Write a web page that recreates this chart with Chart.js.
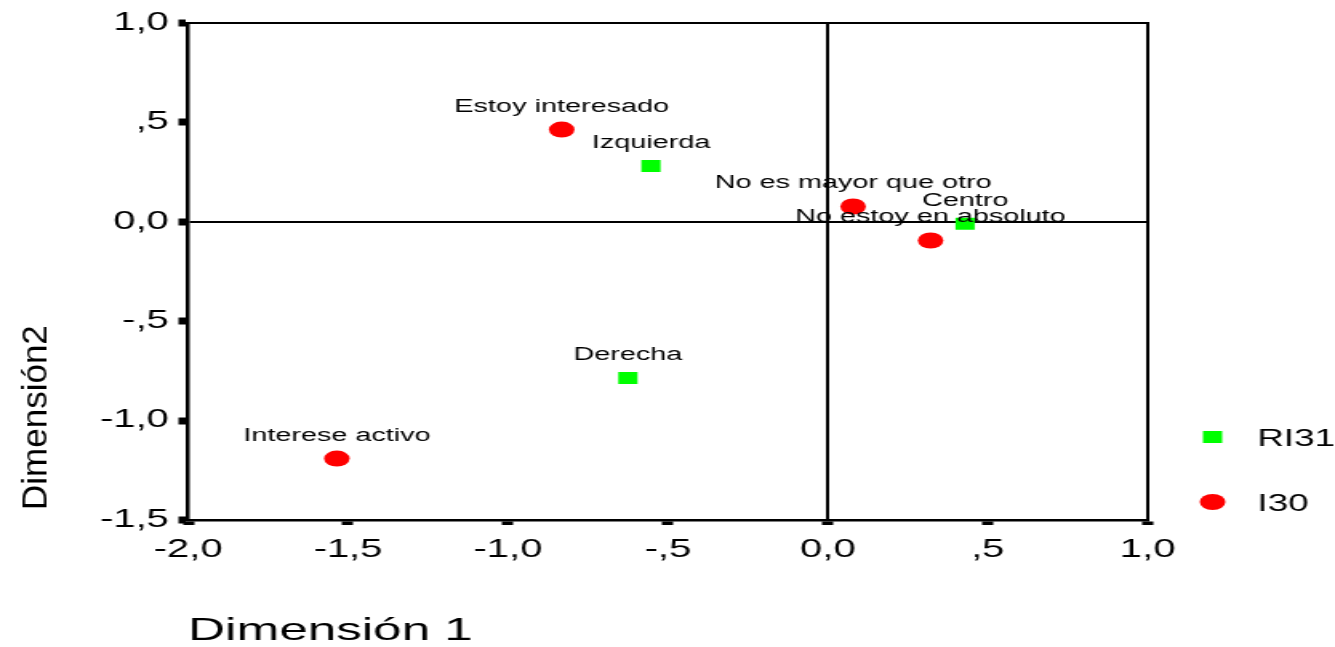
<!DOCTYPE html>
<html>
<head>
<meta charset="utf-8">
<script src="https://cdn.jsdelivr.net/npm/chart.js@4"></script>
<style>
  html, body { margin: 0; padding: 0; background: #fff; overflow: hidden; }
  /* the reference is stretched sideways, so draw narrow and stretch */
  #wrap { width: 834px; height: 647px; transform: scaleX(1.6007); transform-origin: 0 0; }
</style>
</head>
<body>
<div id="wrap"><canvas id="mapChart" width="834" height="647"></canvas></div>
<script>
// Category points
const ri31Names = ['Izquierda', 'Centro', 'Derecha'];
const ri31X = [-0.553, 0.429, -0.625];
const ri31Y = [0.281, -0.01, -0.786];

const i30Names = ['Estoy interesado', 'No es mayor que otro', 'No estoy en absoluto', 'Interese activo'];
const i30X = [-0.832, 0.079, 0.321, -1.535];
const i30Y = [0.464, 0.077, -0.094, -1.191];

// Tick labels, low to high
const xTickLabels = ['-2,0', '-1,5', '-1,0', '-,5', '0,0', ',5', '1,0'];
const yTickLabels = ['-1,5', '-1,0', '-,5', '0,0', ',5', '1,0'];

const fontFamily = '"Liberation Sans", Arial, sans-serif';

const toPoints = (xs, ys) => xs.map((x, i) => ({ x: x, y: ys[i] }));

// Names above each point
const pointNames = {
    id: 'pointNames',
    afterDatasetsDraw(chart) {
        const ctx = chart.ctx;
        ctx.save();
        ctx.font = '18px ' + fontFamily;
        ctx.fillStyle = '#000';
        ctx.textAlign = 'center';
        ctx.textBaseline = 'middle';
        chart.data.datasets.forEach((ds, i) => {
            chart.getDatasetMeta(i).data.forEach((el, j) => {
                ctx.fillText(ds.names[j], el.x, el.y - 23);
            });
        });
        ctx.restore();
    }
};

// Top/right frame, rotated y title and the legend on the right
const frameAndLegend = {
    id: 'frameAndLegend',
    afterDraw(chart) {
        const ctx = chart.ctx;
        const a = chart.chartArea;
        ctx.save();
        ctx.strokeStyle = '#000';
        ctx.lineWidth = 2;
        ctx.beginPath();
        ctx.moveTo(a.left, a.top);
        ctx.lineTo(a.right, a.top);
        ctx.lineTo(a.right, a.bottom);
        ctx.stroke();

        // y axis title
        ctx.save();
        ctx.translate(23, 510);
        ctx.rotate(-Math.PI / 2);
        ctx.scale(1, 1 / 1.6);
        ctx.font = '35px ' + fontFamily;
        ctx.fillStyle = '#000';
        ctx.textAlign = 'left';
        ctx.textBaseline = 'middle';
        ctx.fillText('Dimensión2', 0, 0);
        ctx.restore();

        // legend
        const rows = [437, 502];
        ctx.font = '23px ' + fontFamily;
        ctx.textAlign = 'left';
        ctx.textBaseline = 'middle';
        chart.data.datasets.forEach((ds, i) => {
            const y = rows[i];
            ctx.fillStyle = ds.backgroundColor;
            Chart.helpers.drawPoint(ctx, { pointStyle: ds.pointStyle, radius: ds.pointRadius, rotation: 0, borderWidth: 0 }, 757.5, y);
            ctx.fillStyle = '#000';
            ctx.fillText(ds.label, 785.5, y + 3);
        });
        ctx.restore();
    }
};

function renderChart() {
    const ctx = document.getElementById('mapChart').getContext('2d');
    const zeroLine = c => (c.tick && c.tick.value === 0) ? '#000' : 'rgba(0,0,0,0)';

    new Chart(ctx, {
        type: 'scatter',
        data: {
            datasets: [
                {
                    label: 'RI31',
                    names: ri31Names,
                    data: toPoints(ri31X, ri31Y),
                    pointStyle: 'rect',
                    pointRadius: 8.5,
                    backgroundColor: '#00ff00',
                    borderWidth: 0
                },
                {
                    label: 'I30',
                    names: i30Names,
                    data: toPoints(i30X, i30Y),
                    pointStyle: 'circle',
                    pointRadius: 8,
                    backgroundColor: '#ff0000',
                    borderWidth: 0
                }
            ]
        },
        options: {
            responsive: false,
            animation: false,
            devicePixelRatio: 1,
            layout: { padding: { left: 0, right: 117, top: 23, bottom: 0 } },
            scales: {
                x: {
                    type: 'linear',
                    min: -2, max: 1,
                    afterBuildTicks: s => { s.ticks = xTickLabels.map((t, i) => ({ value: -2 + i * 0.5 })); },
                    afterFit: s => { s.height = 127; },
                    ticks: {
                        callback: (v, i) => xTickLabels[i],
                        color: '#000',
                        padding: 10,
                        maxRotation: 0,
                        autoSkip: false,
                        font: { family: fontFamily, size: 25 }
                    },
                    grid: { color: zeroLine, lineWidth: 2, tickColor: '#000', tickLength: 5, tickWidth: 7 },
                    border: { display: true, color: '#000', width: 2.5 },
                    title: {
                        display: true,
                        text: 'Dimensión 1',
                        align: 'start',
                        color: '#000',
                        padding: { top: 0, bottom: 0 },
                        font: { family: fontFamily, size: 32, lineHeight: 1 }
                    }
                },
                y: {
                    type: 'linear',
                    min: -1.5, max: 1,
                    afterBuildTicks: s => { s.ticks = yTickLabels.map((t, i) => ({ value: -1.5 + i * 0.5 })); },
                    afterFit: s => { s.width = 117.5; },
                    ticks: {
                        callback: (v, i) => yTickLabels[i],
                        color: '#000',
                        padding: 6,
                        font: { family: fontFamily, size: 25 }
                    },
                    grid: { color: zeroLine, lineWidth: 2, tickColor: '#000', tickLength: 6, tickWidth: 7 },
                    border: { display: true, color: '#000', width: 2.5 }
                }
            },
            plugins: {
                legend: { display: false },
                tooltip: { enabled: false }
            }
        },
        plugins: [pointNames, frameAndLegend]
    });
}

renderChart();
</script>
</body>
</html>
